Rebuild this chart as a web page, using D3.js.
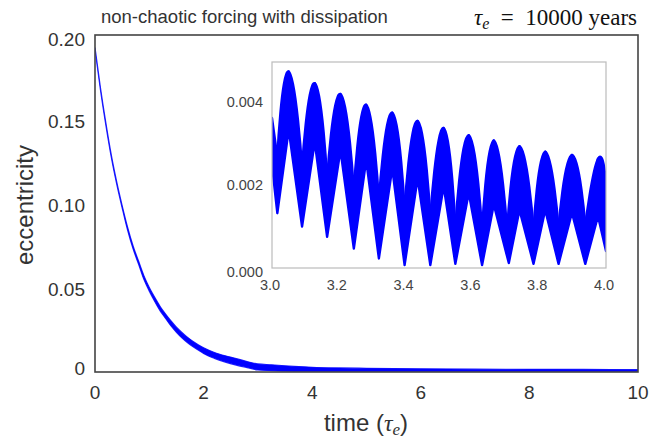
<!DOCTYPE html>
<html><head><meta charset="utf-8">
<script src="https://cdn.jsdelivr.net/npm/d3@7"></script>
<style>body{margin:0;background:#fff}</style></head>
<body>
<svg id="chart" width="666" height="439"></svg>
<script>
// ---- data ----
const mainXTicks = [0, 2, 4, 6, 8, 10];
const mainYTicks = [0, 0.05, 0.10, 0.15, 0.20];
const mainYTickLabels = ["0", "0.05", "0.10", "0.15", "0.20"];

const mainTime  = [0, 0.1, 0.2, 0.3, 0.4, 0.5, 0.6, 0.7, 0.8, 0.9, 1.0, 1.1, 1.2, 1.3, 1.4, 1.5, 1.6, 1.7, 1.8, 1.9, 2.0, 2.2, 2.4, 2.6, 2.8, 3.0, 3.25, 3.5, 3.75, 4.0, 4.5, 5, 6, 7, 8, 9, 10];
const mainUpper = [0.1925, 0.1688, 0.1478, 0.1288, 0.1128, 0.0988, 0.0860, 0.0750, 0.0660, 0.0572, 0.0502, 0.0443, 0.0389, 0.0344, 0.0303, 0.0266, 0.0235, 0.0207, 0.0183, 0.0162, 0.0144, 0.0116, 0.0096, 0.0080, 0.0062, 0.0048, 0.0043, 0.0037, 0.0032, 0.0028, 0.0024, 0.0022, 0.0019, 0.0017, 0.0016, 0.0015, 0.0014];
const mainLower = [0.1915, 0.1675, 0.1465, 0.1275, 0.1115, 0.0974, 0.0842, 0.0732, 0.0642, 0.0550, 0.0480, 0.0419, 0.0363, 0.0318, 0.0273, 0.0236, 0.0203, 0.0175, 0.0151, 0.0130, 0.0110, 0.0081, 0.0059, 0.0041, 0.0026, 0.0012, 0.0008, 0.0005, 0.0004, 0.0003, 0.0003, 0.0003, 0.0003, 0.0003, 0.0003, 0.0003, 0.0003];

const insetXTicks = [3.0, 3.2, 3.4, 3.6, 3.8, 4.0];
const insetXTickLabels = ["3.0", "3.2", "3.4", "3.6", "3.8", "4.0"];
const insetYTicks = [0, 0.002, 0.004];
const insetYTickLabels = ["0.000", "0.002", "0.004"];

// upper envelope: alternating notch / peak vertices
const insetUpperTime = [3.000, 3.016, 3.050, 3.090, 3.128, 3.165, 3.205, 3.245, 3.282, 3.320, 3.360, 3.397, 3.436, 3.474, 3.514, 3.549, 3.589, 3.629, 3.664, 3.704, 3.741, 3.783, 3.818, 3.858, 3.898, 3.938, 3.976, 4.000];
const insetUpper     = [0.00361, 0.00268, 0.00473, 0.00243, 0.00445, 0.00216, 0.00419, 0.00188, 0.00393, 0.00164, 0.00374, 0.00144, 0.00354, 0.00124, 0.00337, 0.00100, 0.00320, 0.00090, 0.00307, 0.00092, 0.00293, 0.00095, 0.00280, 0.00098, 0.00272, 0.00104, 0.00263, 0.00201];
// lower envelope: alternating trough / hump vertices
const insetLowerTime = [3.000, 3.016, 3.050, 3.090, 3.128, 3.165, 3.205, 3.245, 3.282, 3.320, 3.360, 3.397, 3.436, 3.474, 3.514, 3.549, 3.589, 3.629, 3.664, 3.709, 3.741, 3.783, 3.818, 3.858, 3.898, 3.938, 3.976, 4.000];
const insetLower     = [0.00248, 0.00132, 0.00333, 0.00100, 0.00304, 0.00075, 0.00284, 0.00047, 0.00260, 0.00023, 0.00240, 0.00007, 0.00216, 0.00007, 0.00197, 0.00010, 0.00181, 0.00007, 0.00153, 0.00012, 0.00140, 0.00010, 0.00140, 0.00010, 0.00133, 0.00010, 0.00125, 0.00041];

// ---- drawing ----
const svg = d3.select("#chart");
const blue = "#0000ff";
const defs = svg.append("defs");

const x = d3.scaleLinear().domain([0, 10]).range([95, 638]);
const y = d3.scaleLinear().domain([0, 0.2]).range([372, 35]);

defs.append("clipPath").attr("id", "mainclip")
  .append("rect").attr("x", 95).attr("y", 35).attr("width", 543).attr("height", 337);

// main band
const mainData = mainTime.map((t, i) => ({t, u: mainUpper[i], l: mainLower[i]}));
svg.append("path").datum(mainData)
  .attr("clip-path", "url(#mainclip)")
  .attr("d", d3.area().x(d => x(d.t)).y0(d => y(d.l)).y1(d => y(d.u)).curve(d3.curveMonotoneX))
  .attr("fill", blue).attr("stroke", blue).attr("stroke-width", 1.2).attr("stroke-opacity", 0.85);

// main frame
svg.append("rect").attr("x", 95).attr("y", 35).attr("width", 543).attr("height", 337)
  .attr("fill", "none").attr("stroke", "#444").attr("stroke-width", 1.6);

// main tick labels
const labFont = "'Liberation Sans', Arial, Helvetica, sans-serif";
const serif = "'Liberation Serif', 'Times New Roman', serif";
svg.append("g").selectAll("text").data(mainXTicks).join("text")
  .attr("x", d => x(d)).attr("y", 399)
  .attr("text-anchor", "middle").attr("font-family", labFont).attr("font-size", 19)
  .attr("fill", "#333").text(d => d);

const yLabOffset = [-4, 1.5, 1.5, 2.5, 4];
svg.append("g").selectAll("text").data(mainYTicks).join("text")
  .attr("x", 85).attr("y", (d, i) => y(d) + yLabOffset[i])
  .attr("dy", "0.35em")
  .attr("text-anchor", "end").attr("font-family", labFont).attr("font-size", 19)
  .attr("fill", "#333").text((d, i) => mainYTickLabels[i]);

// axis titles
svg.append("text").attr("transform", "translate(33,205) rotate(-90)")
  .attr("text-anchor", "middle").attr("font-family", labFont).attr("font-size", 24)
  .attr("fill", "#333").text("eccentricity");

const xt = svg.append("text").attr("x", 366).attr("y", 431)
  .attr("text-anchor", "middle").attr("font-family", labFont).attr("font-size", 24).attr("fill", "#333");
xt.append("tspan").text("time (");
xt.append("tspan").attr("font-family", serif).attr("font-style", "italic").text("τ");
xt.append("tspan").attr("font-family", serif).attr("font-style", "italic")
  .attr("font-size", 17).attr("dy", 4).text("e");
xt.append("tspan").attr("dy", -4).text(")");

// top titles
svg.append("text").attr("x", 101).attr("y", 23)
  .attr("font-family", labFont).attr("font-size", 18.5).attr("fill", "#333")
  .text("non-chaotic forcing with dissipation");

const tt = svg.append("text").attr("x", 637).attr("y", 25).attr("text-anchor", "end")
  .attr("font-family", serif).attr("font-size", 23).attr("fill", "#111");
tt.append("tspan").attr("font-style", "italic").text("τ");
tt.append("tspan").attr("font-style", "italic").attr("font-size", 16).attr("dy", 4).text("e");
tt.append("tspan").attr("dy", -4).text("\u2002=\u200210000 years");

// ---- inset ----
const ix = d3.scaleLinear().domain([3, 4]).range([272, 606]);
const iy = d3.scaleLinear().domain([0, 0.00496]).range([268, 62]);

svg.append("rect").attr("x", 272).attr("y", 62).attr("width", 334).attr("height", 206)
  .attr("fill", "#fff").attr("stroke", "none");

defs.append("clipPath").attr("id", "insetclip")
  .append("rect").attr("x", 272).attr("y", 62).attr("width", 334).attr("height", 206);

const ig = svg.append("g").attr("clip-path", "url(#insetclip)");
const upperPts = insetUpperTime.map((t, i) => [ix(t), iy(insetUpper[i])]);
const lowerPts = insetLowerTime.map((t, i) => [ix(t), iy(insetLower[i])]);

// band body (straight segments between read vertices)
ig.append("path")
  .attr("d", d3.line()(upperPts.concat(lowerPts.slice().reverse())) + "Z")
  .attr("fill", blue).attr("stroke", blue).attr("stroke-width", 2.4).attr("stroke-linejoin", "round");

// rounded caps of each lobe: notch -> peak -> notch drawn as a smooth, full arch
const arch = d3.line().curve(d3.curveCardinal.tension(-0.7));
for (let i = 2; i < upperPts.length; i += 2) {
  const a = upperPts[i - 1], p = upperPts[i], b = upperPts[i + 1];
  const h = lowerPts[i];
  ig.append("path")
    .attr("d", arch([a, p, b]) + "L" + h[0] + "," + h[1] + "Z")
    .attr("fill", blue).attr("stroke", blue).attr("stroke-width", 2.4).attr("stroke-linejoin", "round");
}

svg.append("rect").attr("x", 272).attr("y", 62).attr("width", 334).attr("height", 206)
  .attr("fill", "none").attr("stroke", "#bbb").attr("stroke-width", 1.2);

svg.append("g").selectAll("text").data(insetXTicks).join("text")
  .attr("x", d => ix(d) - 2).attr("y", 290)
  .attr("text-anchor", "middle").attr("font-family", labFont).attr("font-size", 14.5)
  .attr("fill", "#444").text((d, i) => insetXTickLabels[i]);

const iyOff = [4, 0, 0];
svg.append("g").selectAll("text").data(insetYTicks).join("text")
  .attr("x", 263).attr("y", (d, i) => iy(d) + iyOff[i]).attr("dy", "0.35em")
  .attr("text-anchor", "end").attr("font-family", labFont).attr("font-size", 14.5)
  .attr("fill", "#444").text((d, i) => insetYTickLabels[i]);
</script>
</body></html>
